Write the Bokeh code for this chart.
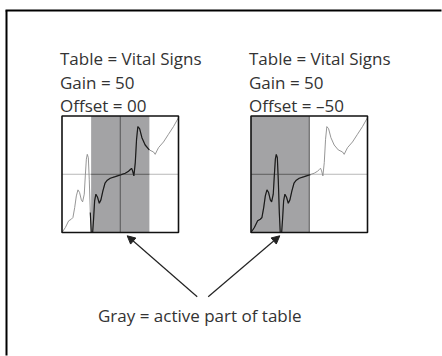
from bokeh.plotting import figure
from bokeh.models import Range1d, Arrow, NormalHead
from bokeh.core.properties import value
from bokeh.embed import file_html
from bokeh.resources import INLINE

# ---- data: the "Vital Signs" table (normalised 0..1 input -> 0..1 output)
curve_t = [0.0, 0.029, 0.057, 0.080, 0.094, 0.109, 0.123, 0.137, 0.151, 0.166,
           0.177, 0.191, 0.200, 0.209, 0.217, 0.226, 0.234, 0.243, 0.251, 0.263,
           0.271, 0.280, 0.291, 0.306, 0.320, 0.334, 0.351, 0.369, 0.389, 0.414,
           0.457, 0.509, 0.543, 0.571, 0.589, 0.597, 0.606, 0.617, 0.629, 0.640,
           0.651, 0.666, 0.686, 0.714, 0.749, 0.786, 0.800, 0.814, 0.829, 0.871,
           0.914, 0.957, 1.0]
curve_v = [0.0, 0.043, 0.100, 0.114, 0.129, 0.214, 0.314, 0.366, 0.343, 0.280,
           0.263, 0.329, 0.486, 0.629, 0.671, 0.643, 0.457, 0.171, 0.0, 0.0,
           0.114, 0.271, 0.329, 0.300, 0.251, 0.280, 0.357, 0.423, 0.449, 0.466,
           0.480, 0.497, 0.509, 0.526, 0.543, 0.551, 0.529, 0.486, 0.600, 0.800,
           0.909, 0.891, 0.814, 0.751, 0.709, 0.691, 0.671, 0.700, 0.729, 0.777,
           0.843, 0.909, 0.986]

panel_titles = [["Table = Vital Signs", "Gain = 50", "Offset = 00"],
                ["Table = Vital Signs", "Gain = 50", "Offset = \u201350"]]
active_start = [0.25, 0.0]
active_end = [0.75, 0.5]
caption = "Gray = active part of table"

# ---- layout (pixels)
W, H = 442, 356
PANEL_X = [61.5, 250.5]
PANEL_Y = 115.5
S = 116.5
FONT = "Open Sans"
FS = "17px"
TXT = "#333333"

p = figure(width=W, height=H, x_range=Range1d(0, W), y_range=Range1d(H, 0),
           output_backend="svg", toolbar_location=None, min_border=0,
           x_axis_location=None, y_axis_location=None)
p.grid.visible = False
p.outline_line_color = None
p.background_fill_color = "white"
p.border_fill_color = "white"

# outer frame (top and left edges only)
p.segment(x0=[6, 5], y0=[10, 10], x1=[6, W - 1], y1=[H - 1, 10],
          line_color="black", line_width=2)

for i in range(2):
    x0 = PANEL_X[i]
    a, b = active_start[i], active_end[i]

    def mx(t):
        return x0 + t * S

    def my(v):
        return PANEL_Y + (1 - v) * S

    # active (gray) part
    p.quad(left=[mx(a)], right=[mx(b)], top=[my(1)], bottom=[my(0)],
           fill_color="#a3a3a5", line_color=None)

    # crosshair
    p.line(x=[mx(0), mx(1)], y=[my(0.5), my(0.5)], line_color="#b8b8b8", line_width=1)
    p.line(x=[mx(max(a, 0)), mx(min(b, 1))], y=[my(0.5), my(0.5)], line_color="#555555", line_width=1)
    p.line(x=[mx(0.5), mx(0.5)], y=[my(0), my(1)], line_color="#555555", line_width=1)

    # table curve: gray everywhere, black within the active part
    xs = [mx(t) for t in curve_t]
    ys = [my(v) for v in curve_v]
    p.line(x=xs, y=ys, line_color="#8a8a8a", line_width=0.9)
    sel = [k for k, t in enumerate(curve_t) if a - 0.01 <= t <= b + 0.01]
    p.line(x=[xs[k] for k in sel], y=[ys[k] for k in sel], line_color="#1a1a1a", line_width=1.2)

    # panel frame
    p.quad(left=[mx(0)], right=[mx(1)], top=[my(1)], bottom=[my(0)],
           fill_color=None, line_color="#111111", line_width=1.6)

    # titles
    p.text(x=[x0 - 2] * 3, y=[58.3, 81.7, 105.0], text=panel_titles[i],
           text_font=value(FONT), text_font_size=FS, text_color=TXT,
           text_baseline="alphabetic", text_align="left")

# caption and arrows
p.text(x=[97.5], y=[315], text=[caption], text_font=value(FONT), text_font_size=FS,
       text_color=TXT, text_baseline="alphabetic", text_align="left")

for xs_, ys_, xe, ye in [(196.7, 296.3, 126.7, 235.3), (207.7, 296.3, 279.3, 235.3)]:
    p.add_layout(Arrow(end=NormalHead(size=8, fill_color="#222222", line_color="#222222", line_width=1),
                       x_start=xs_, y_start=ys_, x_end=xe, y_end=ye,
                       line_color="#222222", line_width=1.2))

open("out.html", "w").write(file_html(p, INLINE))
